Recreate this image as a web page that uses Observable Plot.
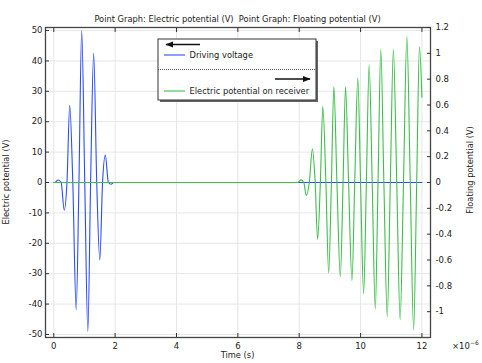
<!DOCTYPE html>
<html><head><meta charset="utf-8">
<script src="https://cdn.jsdelivr.net/npm/d3@7"></script>
<script src="https://cdn.jsdelivr.net/npm/@observablehq/plot@0.6"></script>
<style>html,body{margin:0;padding:0;background:#fff}svg{display:block}</style>
</head><body><div id="chart"></div>
<script>
// Time in microseconds (axis shows ×10^-6 s)
const blueTime  = [0, 0.03, 0.14, 0.24, 0.34, 0.43, 0.52, 0.62, 0.73, 0.82, 0.91, 1.01, 1.11, 1.20, 1.30, 1.40, 1.50, 1.59, 1.68, 1.78, 1.87, 1.95, 12];
const blueValue = [0, 0, 0.8, 0, -9.1, 0, 25.4, 0, -41.9, 0, 50, 0, -49, 0, 42.5, 0, -25.5, 0, 9, 0, -0.6, 0, 0];

const greenTime  = [0, 7.95, 8.06, 8.15, 8.23, 8.33, 8.43, 8.52, 8.60, 8.69, 8.77, 8.87, 8.96, 9.05, 9.13, 9.23, 9.34, 9.43, 9.51, 9.61, 9.72, 9.81, 9.91, 10.00, 10.10, 10.19, 10.28, 10.38, 10.48, 10.57, 10.66, 10.76, 10.87, 10.97, 11.07, 11.18, 11.29, 11.40, 11.51, 11.62, 11.73, 11.83, 11.92, 12.00];
const greenValue = [0, 0, 0.02, 0, -0.10, 0, 0.26, 0, -0.44, 0, 0.59, 0, -0.70, 0, 0.74, 0, -0.73, 0, 0.74, 0, -0.76, 0, 0.81, 0, -0.86, 0, 0.91, 0, -0.98, 0, 1.03, 0, -1.04, 0, 1.03, 0, -1.06, 0, 1.13, 0, -1.14, 0, 1.05, 0.66];

const xTicks = [0, 2, 4, 6, 8, 10, 12];
const leftTicks = [-50, -40, -30, -20, -10, 0, 10, 20, 30, 40, 50];
const rightTicks = [-1, -0.8, -0.6, -0.4, -0.2, 0, 0.2, 0.4, 0.6, 0.8, 1, 1.2];
const seriesNames = ["Driving voltage", "Electric potential on receiver"];
const titleText = "Point Graph: Electric potential (V)  Point Graph: Floating potential (V)";
const xLabel = "Time (s)";
const yLeftLabel = "Electric potential (V)";
const yRightLabel = "Floating potential (V)";

const BLUE = "#2b4cff", GREEN = "#3dbf4b";
const leftMax = 51, rightMax = 1.2;
const k = leftMax / rightMax;

const blue = blueTime.map((t, i) => ({t, v: blueValue[i]}));
const green = greenTime.map((t, i) => ({t, v: greenValue[i] * k}));
const fmt = d => { const r = Math.round(d * 10) / 10; return String(r); };

const W = 482, H = 363, mT = 27, mB = 26, mL = 45, mR = 52;
const FONT = "DejaVu Sans";

const plot = Plot.plot({
  width: W, height: H,
  marginTop: mT, marginBottom: mB, marginLeft: mL, marginRight: mR,
  style: {fontFamily: FONT, fontSize: "8.5px", color: "#222", background: "#fff"},
  x: {domain: [-0.27, 12.28], label: null},
  y: {domain: [-leftMax, leftMax], label: null},
  marks: [
    Plot.gridX(xTicks, {stroke: "#e6e6e6", strokeOpacity: 1}),
    Plot.gridY(leftTicks, {stroke: "#e6e6e6", strokeOpacity: 1}),
    Plot.line(blue, {x: "t", y: "v", stroke: BLUE, strokeWidth: 1.1, curve: "monotone-x"}),
    Plot.line(green, {x: "t", y: "v", stroke: GREEN, strokeWidth: 1.1, curve: "monotone-x"}),
    Plot.frame({stroke: "#444", strokeWidth: 1.3}),
    // inward tick marks
    Plot.axisX(xTicks, {anchor: "bottom", tickSize: 4, dy: -4, tickFormat: () => "", label: null, stroke: "#333"}),
    Plot.axisX(xTicks, {anchor: "top", tickSize: 4, dy: 4, tickFormat: () => "", label: null, stroke: "#333"}),
    Plot.axisY(leftTicks, {anchor: "left", tickSize: 4, dx: 4, tickFormat: () => "", label: null, stroke: "#333"}),
    Plot.axisY(rightTicks.map(d => d * k), {anchor: "right", tickSize: 4, dx: -4, tickFormat: () => "", label: null, stroke: "#333"}),
    // tick labels
    Plot.axisX(xTicks, {anchor: "bottom", tickSize: 0, tickPadding: 5, tickFormat: d => String(d), label: null}),
    Plot.axisY(leftTicks, {anchor: "left", tickSize: 0, tickPadding: 3, tickFormat: d => String(d), label: null}),
    Plot.axisY(rightTicks.map(d => d * k), {anchor: "right", tickSize: 0, tickPadding: 5, tickFormat: d => fmt(d / k), label: null})
  ]
});
document.getElementById("chart").appendChild(plot);

const svg = d3.select(plot);
const txt = (x, y, s, opts = {}) => svg.append("text").attr("x", x).attr("y", y)
  .attr("font-family", FONT).attr("font-size", opts.size || 8.3).attr("fill", "#222")
  .attr("text-anchor", opts.anchor || "middle")
  .attr("transform", opts.rot ? `rotate(-90 ${x} ${y})` : null).text(s);

const cx = (mL + (W - mR)) / 2;
txt(cx, 22, titleText);
txt(cx, 357.5, xLabel);
txt(8.5, 182, yLeftLabel, {rot: true});
txt(473, 170, yRightLabel, {rot: true});
const sx = txt(452, 349, "×10", {anchor: "start", size: 8.5});
sx.append("tspan").attr("dy", -4).attr("font-size", 6).text("−6");

// Legend
const lg = svg.append("g");
lg.append("rect").attr("x", 160).attr("y", 41).attr("width", 158).attr("height", 61).attr("fill", "#666");
lg.append("rect").attr("x", 158).attr("y", 39).attr("width", 158).attr("height", 61).attr("fill", "#fff").attr("stroke", "#333").attr("stroke-width", 1);
svg.append("defs").html(`<marker id="ah" viewBox="0 0 10 10" refX="9" refY="5" markerWidth="6" markerHeight="6" orient="auto-start-reverse"><path d="M0,1L10,5L0,9z" fill="#111"/></marker>`);
lg.append("line").attr("x1", 200).attr("x2", 166).attr("y1", 44.5).attr("y2", 44.5).attr("stroke", "#111").attr("stroke-width", 1.3).attr("marker-end", "url(#ah)");
lg.append("line").attr("x1", 164).attr("x2", 185).attr("y1", 55).attr("y2", 55).attr("stroke", BLUE).attr("stroke-width", 1.1);
txt(189.5, 58, seriesNames[0], {anchor: "start", size: 8.3});
lg.append("line").attr("x1", 158).attr("x2", 316).attr("y1", 69.5).attr("y2", 69.5).attr("stroke", "#555").attr("stroke-dasharray", "1,1");
lg.append("line").attr("x1", 275).attr("x2", 310).attr("y1", 79).attr("y2", 79).attr("stroke", "#111").attr("stroke-width", 1.3).attr("marker-end", "url(#ah)");
lg.append("line").attr("x1", 164).attr("x2", 185).attr("y1", 91).attr("y2", 91).attr("stroke", GREEN).attr("stroke-width", 1.1);
txt(189.5, 94, seriesNames[1], {anchor: "start", size: 8.3});
</script>
</body></html>
